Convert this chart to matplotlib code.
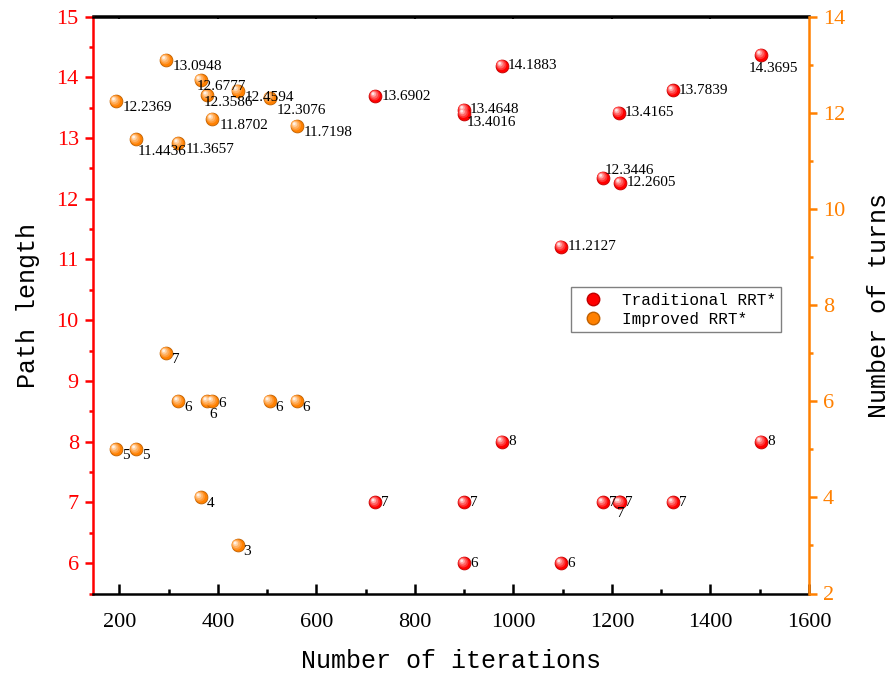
import numpy as np
import matplotlib
matplotlib.use("Agg")
import matplotlib.pyplot as plt
from matplotlib import transforms
from matplotlib.lines import Line2D
from matplotlib.colors import to_rgb
from matplotlib.ticker import MultipleLocator

# Traditional RRT* (left axis)
trad_iter = [720, 900, 900, 977, 1097, 1182, 1214, 1217, 1324, 1503]
trad_len = [13.6902, 13.4648, 13.4016, 14.1883, 11.2127, 12.3446, 13.4165, 12.2605, 13.7839, 14.3695]
trad_turns = [7, 7, 6, 8, 6, 7, 7, 7, 7, 8]

# Improved RRT* (right axis)
impr_iter = [193, 234, 295, 320, 365, 379, 389, 440, 505, 560]
impr_len = [12.2369, 11.4436, 13.0948, 11.3657, 12.6777, 12.3586, 11.8702, 12.4594, 12.3076, 11.7198]
impr_turns = [5, 5, 7, 6, 4, 6, 6, 3, 6, 6]

RED = "#ff0000"
ORANGE = "#ff8000"
SERIF = "Liberation Serif"
MONO = "Liberation Mono"

# label offsets in pixels (dx to left edge, dy downwards)
trad_len_off = {2: (3, 9), 5: (2, -7), 9: (-13, 14)}
trad_turn_off = {7: (-3, 11)}
impr_len_off = {1: (2, 11.7), 4: (-3.5, 6), 5: (-4, 6.7), 8: (7.4, 12.4)}
impr_turn_off = {5: (2, 13), 6: (6, 2)}

fig = plt.figure(figsize=(8.9, 6.78), dpi=100)
ax = fig.add_axes([92.7 / 890, 84.5 / 678, 716.3 / 890, 577 / 678])
ax2 = ax.twinx()


def balls(a, x, y, color):
    base = np.array(to_rgb(color))
    dark = base * 0.75
    a.scatter(x, y, s=85, color=base, edgecolor=dark, linewidth=0.6, zorder=3, clip_on=False)
    layers = [(55, 0.2, 0.8), (32, 0.4, 1.3), (14, 0.65, 1.9), (4, 0.9, 2.4)]
    for s, mix, off in layers:
        c = base + (1 - base) * mix
        tr = transforms.offset_copy(a.transData, fig=fig, x=-off, y=off, units="dots")
        a.scatter(x, y, s=s, color=c, edgecolor="none", zorder=4, transform=tr, clip_on=False)


def labels(a, x, y, texts, offs, default):
    for i, (xi, yi, t) in enumerate(zip(x, y, texts)):
        dx, dy = offs.get(i, default)
        a.annotate(t, (xi, yi), xytext=(dx, -dy), textcoords="offset pixels",
                   ha="left", va="center", fontsize=11, family=SERIF, zorder=5)


balls(ax, trad_iter, trad_len, RED)
balls(ax, trad_iter, trad_turns, RED)
labels(ax, trad_iter, trad_len, [f"{v:.4f}" for v in trad_len], trad_len_off, (6, 0))
labels(ax, trad_iter, trad_turns, [str(v) for v in trad_turns], trad_turn_off, (6, 0))

balls(ax2, impr_iter, impr_len, ORANGE)
balls(ax2, impr_iter, impr_turns, ORANGE)
labels(ax2, impr_iter, impr_len, [f"{v:.4f}" for v in impr_len], impr_len_off, (7, 6.5))
labels(ax2, impr_iter, impr_turns, [str(v) for v in impr_turns], impr_turn_off, (6, 6))

ax.set_xlim(146, 1600)
ax.set_ylim(5.5, 15)
ax2.set_ylim(2, 14)

ax.xaxis.set_major_locator(MultipleLocator(200))
ax.xaxis.set_minor_locator(MultipleLocator(100))
ax.yaxis.set_major_locator(MultipleLocator(1))
ax.yaxis.set_minor_locator(MultipleLocator(0.5))
ax2.yaxis.set_major_locator(MultipleLocator(2))
ax2.yaxis.set_minor_locator(MultipleLocator(1))

ax.tick_params(axis="x", which="major", direction="in", length=7, width=1.8, pad=14,
               labelsize=16, colors="black")
ax.tick_params(axis="x", which="minor", direction="in", length=3.5, width=1.8)
ax.tick_params(axis="y", which="major", direction="out", length=6, width=1.8, pad=4,
               labelsize=16, colors=RED)
ax.tick_params(axis="y", which="minor", direction="out", length=3, width=1.8, colors=RED)
ax2.tick_params(axis="y", which="major", direction="out", length=6, width=1.8, pad=4,
                labelsize=16, colors=ORANGE)
ax2.tick_params(axis="y", which="minor", direction="out", length=3, width=1.8, colors=ORANGE)

top = ax.secondary_xaxis("top")
top.xaxis.set_major_locator(MultipleLocator(200))
top.xaxis.set_minor_locator(MultipleLocator(100))
top.tick_params(which="major", direction="in", length=2.5, width=1.5, labeltop=False)
top.tick_params(which="minor", direction="in", length=1, width=1)
top.spines["top"].set_linewidth(1.8)

for lab in ax.get_xticklabels() + ax.get_yticklabels() + ax2.get_yticklabels():
    lab.set_family(SERIF)

ax.spines["left"].set_color(RED)
ax.spines["right"].set_visible(False)
for s in ["left", "bottom", "top"]:
    ax.spines[s].set_linewidth(1.8)
ax2.spines["right"].set_color(ORANGE)
ax2.spines["right"].set_linewidth(1.8)
for s in ["left", "top", "bottom"]:
    ax2.spines[s].set_visible(False)

ax.set_xlabel("Number of iterations", fontsize=18, family=MONO, labelpad=12)
ax.set_ylabel("Path length", fontsize=18, family=MONO, labelpad=12)
ax2.set_ylabel("Number of turns", fontsize=18, family=MONO, labelpad=16)

handles = [Line2D([], [], ls="", marker="o", markersize=9, color=RED, mec="#c00000"),
           Line2D([], [], ls="", marker="o", markersize=9, color=ORANGE, mec="#c06000")]
leg = ax2.legend(handles, ["Traditional RRT*", "Improved RRT*"], loc="upper left",
                 bbox_to_anchor=(0.668, 0.531), borderaxespad=0, fancybox=False,
                 framealpha=1, edgecolor="#808080", prop={"family": MONO, "size": 11.5},
                 handletextpad=0.8, labelspacing=0.25, borderpad=0.35)
leg.get_frame().set_linewidth(1)

fig.savefig("out.png", dpi=100)
